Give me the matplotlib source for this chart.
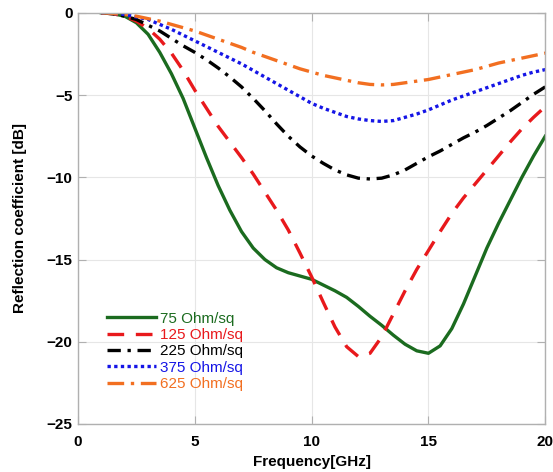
import matplotlib
matplotlib.use("Agg")
import matplotlib.pyplot as plt

plt.rcParams['font.family'] = ['Liberation Sans', 'DejaVu Sans']

# frequency points (GHz)
freq = [1, 1.5, 2, 2.5, 3, 3.5, 4, 4.5, 5, 5.5, 6, 6.5, 7, 7.5, 8, 8.5, 9, 9.5, 10,
        10.5, 11, 11.5, 12, 12.5, 13, 13.5, 14, 14.5, 15, 15.5, 16, 16.5, 17, 17.5,
        18, 18.5, 19, 19.5, 20]

r75 = [0, -0.05, -0.2, -0.6, -1.3, -2.4, -3.7, -5.2, -7.0, -8.8, -10.5, -12.0, -13.3,
       -14.3, -15.0, -15.5, -15.8, -16.0, -16.2, -16.55, -16.9, -17.3, -17.85, -18.45,
       -19.0, -19.6, -20.15, -20.55, -20.7, -20.25, -19.2, -17.7, -16.0, -14.3, -12.8,
       -11.4, -10.0, -8.7, -7.5]
r125 = [0, -0.05, -0.2, -0.5, -0.95, -1.6, -2.45, -3.5, -4.7, -5.8, -6.9, -7.85, -8.8,
        -9.8, -10.9, -12.0, -13.2, -14.6, -16.05, -17.6, -19.1, -20.3, -20.9, -20.7,
        -19.7, -18.3, -16.9, -15.6, -14.45, -13.3, -12.2, -11.25, -10.4, -9.55, -8.7,
        -7.85, -7.05, -6.35, -5.7]
r225 = [0, -0.05, -0.2, -0.4, -0.75, -1.1, -1.55, -2.0, -2.4, -2.85, -3.35, -3.9,
        -4.5, -5.2, -5.95, -6.75, -7.5, -8.15, -8.7, -9.15, -9.55, -9.85, -10.05,
        -10.1, -10.05, -9.85, -9.55, -9.15, -8.75, -8.4, -8.0, -7.6, -7.25, -6.85,
        -6.4, -5.95, -5.45, -4.95, -4.5]
r375 = [0, -0.03, -0.1, -0.25, -0.4, -0.7, -1.0, -1.35, -1.7, -2.05, -2.4, -2.75,
        -3.1, -3.5, -3.9, -4.3, -4.7, -5.1, -5.5, -5.8, -6.05, -6.3, -6.45, -6.55,
        -6.6, -6.55, -6.35, -6.15, -5.9, -5.6, -5.3, -5.05, -4.8, -4.55, -4.3, -4.05,
        -3.8, -3.6, -3.45]
r625 = [0, -0.03, -0.1, -0.2, -0.35, -0.5, -0.7, -0.9, -1.1, -1.35, -1.6, -1.85,
        -2.1, -2.4, -2.65, -2.9, -3.15, -3.4, -3.6, -3.8, -3.95, -4.1, -4.25, -4.35,
        -4.38, -4.35, -4.25, -4.15, -4.05, -3.9, -3.75, -3.6, -3.45, -3.25, -3.05, -2.9,
        -2.75, -2.6, -2.45]

labels = ['75 Ohm/sq', '125 Ohm/sq', '225 Ohm/sq', '375 Ohm/sq', '625 Ohm/sq']
colors = ['#1b6b1f', '#e8191c', '#000000', '#1515e6', '#f26f21']
styles = ['-', (0, (5, 3.5)), (0, (4, 2, 1, 2)), (0, (1, 1)), (0, (5, 2, 1, 2))]

fig = plt.figure(figsize=(5.53, 4.72), dpi=100)
ax = fig.add_axes([0.141, 0.1017, 0.845, 0.871])

for ys, lab, c, ls in zip([r75, r125, r225, r375, r625], labels, colors, styles):
    ax.plot(freq, ys, color=c, linestyle=ls, linewidth=2.4, label=lab)

ax.set_xlim(0, 20)
ax.set_ylim(-25, 0)
ax.set_xticks([0, 5, 10, 15, 20])
ax.set_yticks([0, -5, -10, -15, -20, -25])
ax.grid(True, color='#e6e6e6', linewidth=0.8)
for s in ax.spines.values():
    s.set_color('#b0b0b0')
    s.set_linewidth(1.0)
ax.tick_params(direction='in', length=6, color='#b0b0b0', top=True, right=True,
               labelsize=11)
ax.tick_params(axis='x', pad=8)
ax.tick_params(axis='y', pad=4)
for t in ax.get_xticklabels() + ax.get_yticklabels():
    t.set_fontweight('bold')

ax.set_xlabel('Frequency[GHz]', fontsize=11, fontweight='bold', labelpad=4)
ax.set_ylabel('Reflection coefficient [dB]', fontsize=11, fontweight='bold', labelpad=14)

leg = ax.legend(loc='lower left', bbox_to_anchor=(0.045, 0.062), frameon=False,
                fontsize=11, handlelength=3.2, handletextpad=0.3, labelspacing=0.15,
                borderpad=0)
for txt, c in zip(leg.get_texts(), colors):
    txt.set_color(c)

fig.savefig('out.png', dpi=100)
